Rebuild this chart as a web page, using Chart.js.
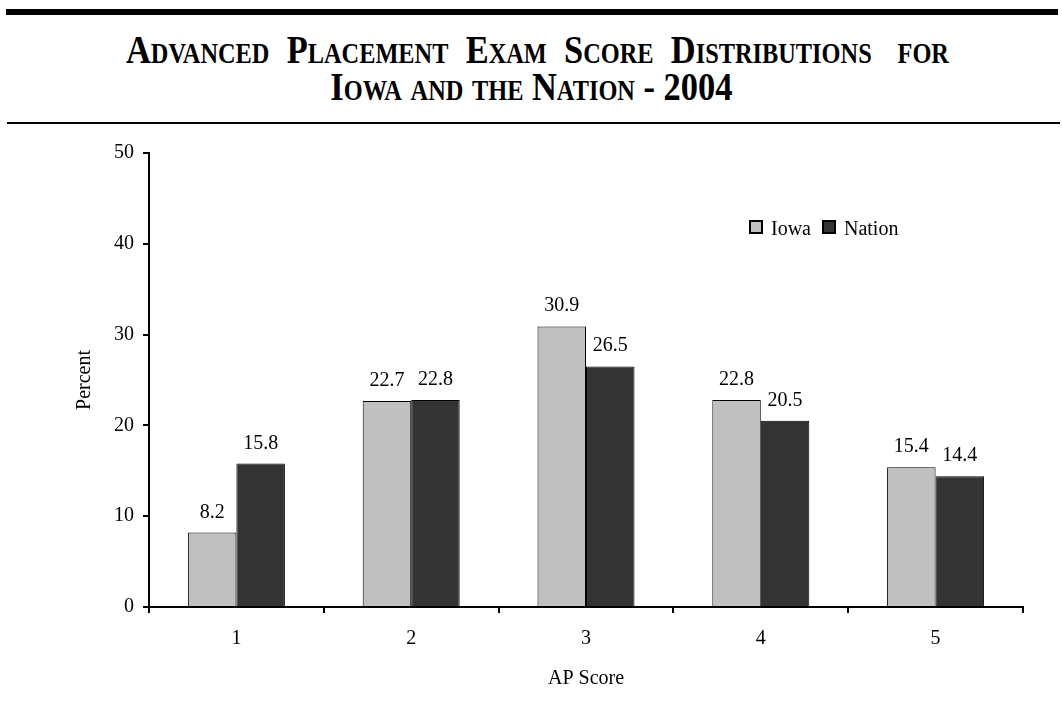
<!DOCTYPE html>
<html>
<head>
<meta charset="utf-8">
<script src="https://cdn.jsdelivr.net/npm/chart.js@4.4.1/dist/chart.umd.min.js"></script>
<style>
  body { margin: 0; background: #fff; }
  #wrap { position: relative; width: 1063px; height: 702px; overflow: hidden; }
  .rule { position: absolute; background: #000; }
  .tline {
    position: absolute; left: 0; width: 1063px; text-align: center;
    font-family: "Liberation Serif", "Times New Roman", serif;
    font-weight: bold; font-variant: small-caps;
    font-size: 41px; line-height: 40px; white-space: pre;
    transform: scaleX(0.84); transform-origin: 531px 0;
  }
  canvas { position: absolute; left: 0; top: 0; }
</style>
</head>
<body>
<div id="wrap">
  <div class="rule" style="left:6px; top:9px; width:1052px; height:6px;"></div>
  <div class="tline" style="top:29px; left:6px;">Advanced  Placement  Exam  Score  Distributions   for</div>
  <div class="tline" style="top:66px;">Iowa and the Nation - 2004</div>
  <div class="rule" style="left:7px; top:122px; width:1053px; height:2px;"></div>
  <canvas id="apChart" width="1063" height="702"></canvas>
</div>
<script>
// data
const scores = ["1", "2", "3", "4", "5"];
const iowa = [8.2, 22.7, 30.9, 22.8, 15.4];
const nation = [15.8, 22.8, 26.5, 20.5, 14.4];
const seriesNames = ["Iowa", "Nation"];

const serif = '"Liberation Serif"';

// value labels above the bars
const barLabels = {
    id: "barLabels",
    afterDatasetsDraw(chart) {
        const ctx = chart.ctx;
        ctx.save();
        ctx.font = "20px " + serif;
        ctx.fillStyle = "#000";
        ctx.textAlign = "center";
        ctx.textBaseline = "alphabetic";
        chart.data.datasets.forEach((ds, i) => {
            chart.getDatasetMeta(i).data.forEach((bar, j) => {
                ctx.fillText(ds.data[j].toFixed(1), bar.x, bar.y - 15);
            });
        });
        ctx.restore();
    }
};

// legend inside the plot, like the original
const innerLegend = {
    id: "innerLegend",
    afterDraw(chart) {
        const ctx = chart.ctx;
        ctx.save();
        ctx.font = "20px " + serif;
        ctx.textAlign = "left";
        ctx.textBaseline = "alphabetic";
        let x = 750;
        chart.data.datasets.forEach((ds) => {
            ctx.fillStyle = ds.backgroundColor;
            ctx.fillRect(x, 221, 12, 12);
            ctx.strokeStyle = "#000";
            ctx.lineWidth = 2;
            ctx.strokeRect(x, 221, 12, 12);
            ctx.fillStyle = "#000";
            ctx.fillText(ds.label, x + 21, 235);
            x += 21 + ctx.measureText(ds.label).width + 12;
        });
        ctx.restore();
    }
};

function makeChart() {
    const ctx = document.getElementById("apChart").getContext("2d");
    var chart = new Chart(ctx, {
        type: "bar",
        data: {
            labels: scores,
            datasets: [
                {
                    label: seriesNames[0],
                    data: iowa,
                    backgroundColor: "#c0c0c0",
                    borderColor: "#000",
                    borderWidth: 1,
                },
                {
                    label: seriesNames[1],
                    data: nation,
                    backgroundColor: "#333333",
                    borderColor: "#000",
                    borderWidth: 1,
                },
            ],
        },
        options: {
            responsive: false,
            animation: false,
            layout: { padding: { left: 0, right: 40, top: 153, bottom: 0 } },
            datasets: { bar: { categoryPercentage: 0.555, barPercentage: 1 } },
            plugins: {
                legend: { display: false },
                tooltip: { enabled: false },
            },
            scales: {
                x: {
                    grid: { display: true, drawOnChartArea: false, color: "#000", lineWidth: 2, tickLength: 6 },
                    border: { color: "#000", width: 2 },
                    ticks: { color: "#000", font: { family: serif, size: 20 }, padding: 14 },
                    title: { display: true, text: "AP Score", color: "#000", font: { family: serif, size: 20 }, padding: { top: 0, bottom: 11 } },
                    afterFit(scale) { scale.height = 95; },
                },
                y: {
                    min: 0,
                    max: 50,
                    ticks: { stepSize: 10, color: "#000", font: { family: serif, size: 20 }, padding: 9 },
                    grid: { display: true, drawOnChartArea: false, color: "#000", lineWidth: 2, tickLength: 6 },
                    border: { color: "#000", width: 2 },
                    title: { display: true, text: "Percent", color: "#000", font: { family: serif, size: 20 }, padding: { top: 73, bottom: 0 } },
                    afterFit(scale) { scale.width = 149; },
                },
            },
        },
        plugins: [barLabels, innerLegend],
    });
}

document.fonts.load('20px "Liberation Serif"').then(makeChart, makeChart);
</script>
</body>
</html>
